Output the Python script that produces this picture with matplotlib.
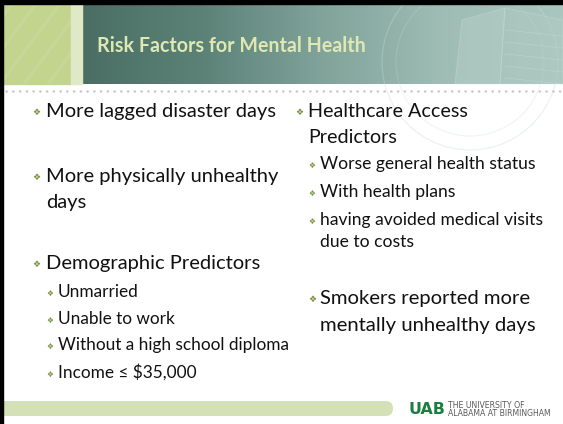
import matplotlib
matplotlib.use("Agg")
import matplotlib.pyplot as plt
import numpy as np
from matplotlib.patches import Rectangle, FancyBboxPatch, Circle, Polygon
from matplotlib.colors import LinearSegmentedColormap

# ---------------- content ----------------
title = "Risk Factors for Mental Health"

left_main = [["More lagged disaster days"],
             ["More physically unhealthy", "days"],
             ["Demographic Predictors"]]
left_sub = ["Unmarried", "Unable to work", "Without a high school diploma",
            "Income \u2264 $35,000"]

right_main = [["Healthcare Access", "Predictors"]]
right_sub = [["Worse general health status"], ["With health plans"],
             ["having avoided medical visits", "due to costs"]]
right_last = [["Smokers reported more", "mentally unhealthy days"]]

logo_word = "UAB"
logo_lines = ["THE UNIVERSITY OF", "ALABAMA AT BIRMINGHAM"]

# ---------------- layout ----------------
W, H = 563, 424
fig = plt.figure(figsize=(W / 100, H / 100), dpi=100)
ax = fig.add_axes([0, 0, 1, 1])
ax.set_xlim(0, W)
ax.set_ylim(H, 0)
ax.axis("off")
fig.canvas.draw()
R = fig.canvas.get_renderer()

BODY = "Lato"
BULLET_C = "#76933c"
TXT_C = "#111111"


def fit(s, target, **kw):
    t = ax.text(0, 0, s, fontsize=10, **kw)
    w = t.get_window_extent(R).width
    t.remove()
    return 10 * target / w


# header band
green_block = Rectangle((0, 0), 71, 84, color="#c3d48f", zorder=0)
ax.add_patch(green_block)
cmap = LinearSegmentedColormap.from_list(
    "g", ["#4a6e64", "#5c8278", "#80a39a", "#9fbdb5", "#aac7bf"])
grad = np.linspace(0, 1, 256)[None, :]
ax.imshow(grad, extent=[82, W, 84, 0], cmap=cmap, aspect="auto", zorder=1)
# faint curved texture on the green block
for k in range(-2, 5):
    xs = np.linspace(0, 90, 50)
    ln, = ax.plot(k * 24 + xs * 0.75, 84 - xs, color="#cddca3", lw=2.5,
                  alpha=0.45, zorder=0.5)
    ln.set_clip_path(green_block)
ax.add_patch(Rectangle((71, 0), 11, 84, color="#dfe9c8", zorder=1.6))

# watermark seal and building (subtle)
for rr, a in ((88, 0.35), (74, 0.25)):
    ax.add_patch(Circle((470, 62), rr, fill=False, ec="#c6dad4", lw=0.9,
                        alpha=a, zorder=2))
ax.add_patch(Polygon([[455, 84], [462, 20], [505, 8], [500, 84]], closed=True,
                     fc="#bcd4cc", ec="#cfe1db", lw=0.7, alpha=0.35, zorder=2))
ax.add_patch(Polygon([[505, 8], [563, 20], [563, 84], [500, 84]], closed=True,
                     fc="#b4cec6", ec="#cfe1db", lw=0.7, alpha=0.3, zorder=2))
for yy in range(30, 84, 12):
    ax.plot([505, 563], [yy, yy + 6], color="#cfe1db", lw=0.5, alpha=0.4,
            zorder=2.1)
ax.set_xlim(0, W)
ax.set_ylim(H, 0)

# title
ts = fit(title, 268, family=BODY, weight="bold")
ax.text(97, 52, title, fontsize=ts, family=BODY, weight="bold",
        color="#dfe8b3", va="baseline", ha="left", zorder=5)

# dotted separator
ax.plot([6, W], [91, 91], color="#c9c9c9", lw=1.8, ls=(0, (0.1, 2.6)),
        dash_capstyle="round", zorder=3)

# body text
s_main = fit(left_main[0][0], 231, family=BODY)
s_sub = fit(left_sub[2], 232, family=BODY)
s_rsub = fit(right_sub[0][0], 215, family=BODY)
s_last = fit(right_last[0][0], 212, family=BODY)
s_rmain = fit(right_main[0][0], 160, family=BODY)


def bullet(x, yc, size):
    ax.text(x, yc, "\u2756", fontsize=size, family="DejaVu Sans",
            color=BULLET_C, ha="center", va="center", zorder=5)


def item(lines, xb, xt, y0, step, size, bsize):
    for i, ln in enumerate(lines):
        ax.text(xt, y0 + i * step, ln, fontsize=size, family=BODY,
                color=TXT_C, ha="left", va="baseline", zorder=5)
    bullet(xb, y0 - 0.33 * size * 100 / 72 * 0.5 - 1, bsize)


main_y = [117, 182, 269]
for lines, y in zip(left_main, main_y):
    item(lines, 36, 46, y, 26, s_main, 6.5)
sub_y = [297, 324, 350, 378]
for ln, y in zip(left_sub, sub_y):
    item([ln], 50, 58, y, 26, s_sub, 5.5)

item(right_main[0], 299, 308, 117, 26, s_rmain, 6.5)
rsub_y = [169, 197, 225]
for lines, y in zip(right_sub, rsub_y):
    item(lines, 312, 320, y, 22, s_rsub, 5.5)
item(right_last[0], 312, 320, 304, 27, s_last, 6.5)

# bottom bar
ax.add_patch(FancyBboxPatch((-10, 401), 403, 15,
                            boxstyle="round,pad=0,rounding_size=7.5",
                            fc="#d4e1b6", ec="none", zorder=2))

# logo
ls = fit(logo_word, 37, family="DejaVu Sans", weight="heavy")
ax.text(409, 414, logo_word, fontsize=ls, family="DejaVu Sans",
        weight="heavy", color="#1a7f3e", ha="left", va="baseline", zorder=5)
ax.text(448, 408.5, logo_lines[0], fontsize=5.6, family="Liberation Sans Narrow",
        color="#5a5a5a", ha="left", va="baseline", zorder=5)
ax.text(448, 416.5, logo_lines[1], fontsize=5.6, family="Liberation Sans Narrow",
        color="#5a5a5a", ha="left", va="baseline", zorder=5)

# black frame on top and left
ax.add_patch(Rectangle((0, 0), W, 4, color="black", zorder=10))
ax.add_patch(Rectangle((0, 0), 3, H, color="black", zorder=10))

fig.savefig("out.png", dpi=100)
